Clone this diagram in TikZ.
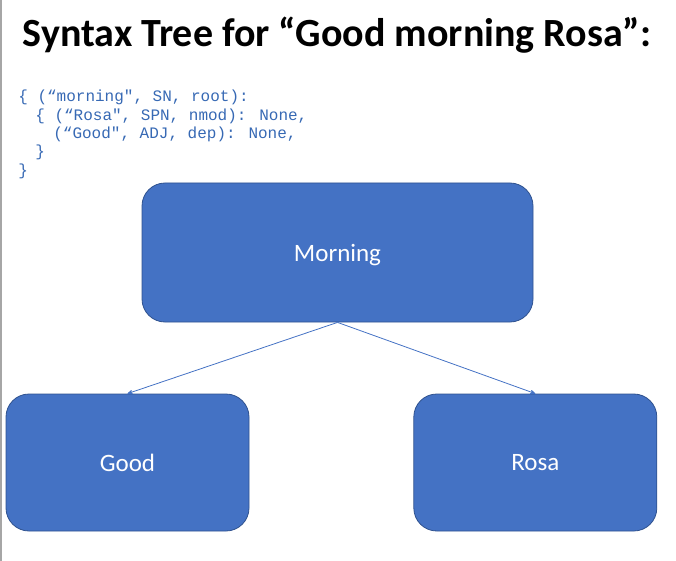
\documentclass[tikz,border=0pt]{standalone}
\usepackage{fontspec}
\setmainfont{Carlito}
\newfontfamily\codefont{Liberation Mono}
\usepackage{tikz}
\usetikzlibrary{arrows,positioning}
\definecolor{boxblue}{RGB}{68,114,196}
\definecolor{boxedge}{RGB}{47,82,143}
\definecolor{codeblue}{RGB}{55,105,180}
\tikzstyle{word}=[rectangle,rounded corners=23pt,fill=boxblue,draw=boxedge,line width=0.8pt,text=white,font=\fontsize{25}{30}\selectfont]
\tikzstyle{link}=[->,draw=boxblue,line width=0.8pt,>=stealth']

\begin{document}
\begin{tikzpicture}[
        x=1pt,y=1pt,
        semithick,
        >=stealth
        ]
        \useasboundingbox (0,0) rectangle (676,-561);
        \draw[gray!70,line width=1.5pt] (1,0) -- (1,-561);
        \node[anchor=base,font=\bfseries\fontsize{40}{44}\selectfont](title) at (337,-47) {Syntax Tree for “Good morning Rosa”:};
        \node[anchor=north west,inner sep=0pt,align=left,text=codeblue,font=\codefont\fontsize{16}{18.3}\selectfont](code) at (18,-90) {%
        \{ (“morning", SN, root):\\
        \hspace*{17pt}\{ (“Rosa", SPN, nmod): None,\\
        \hspace*{35pt}(“Good", ADJ, dep): None,\\
        \hspace*{17pt}\}\\
        \}};
        \node[word,minimum width=391pt,minimum height=139pt](morning) at (337.5,-252.5) {\raisebox{-3pt}[\height][\depth]{Morning}};
        \node[word,minimum width=243pt,minimum height=137pt](good) at (127.5,-462.5) {Good};
        \node[word,minimum width=243pt,minimum height=137pt](rosa) [right=164pt of good] {Rosa};
        \draw[link] (morning.south) -- (good.north);
        \draw[link] (morning.south) -- (rosa.north);
    \end{tikzpicture}
\end{document}
